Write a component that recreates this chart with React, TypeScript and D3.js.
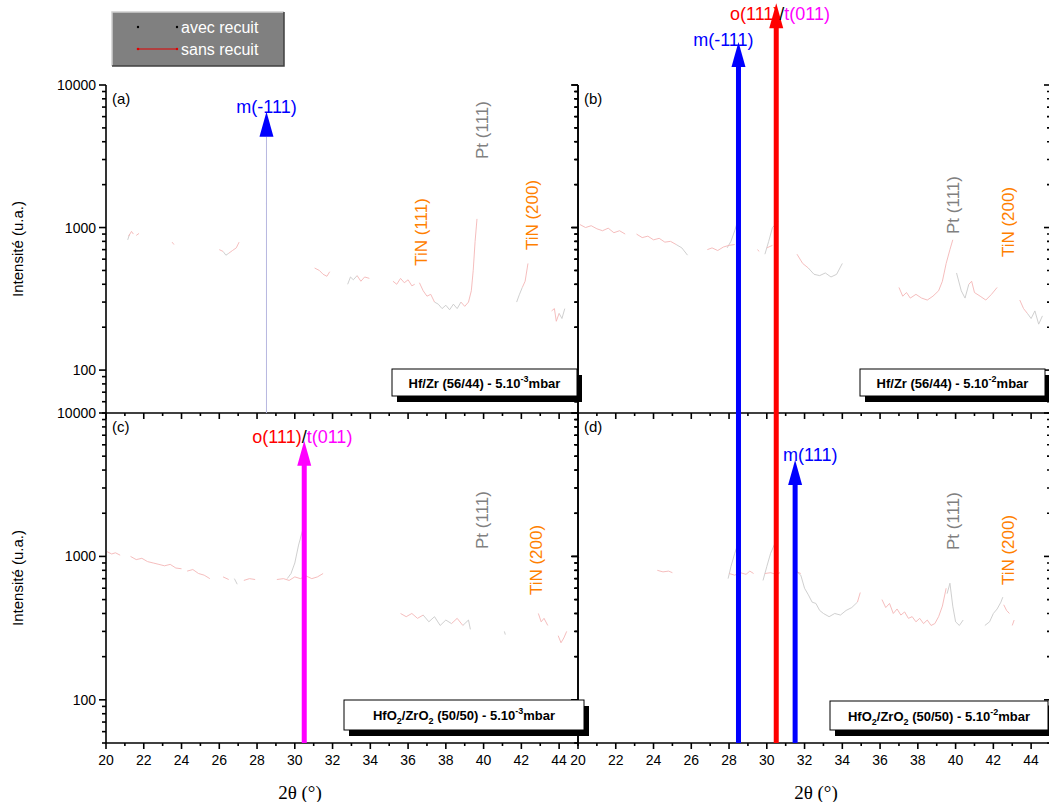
import React from 'react';
import * as d3 from 'd3';

type Frag = [number, number][];

// ---------- data ----------
const X_TICKS = [20, 22, 24, 26, 28, 30, 32, 34, 36, 38, 40, 42, 44];
const X_MINOR = [21, 23, 25, 27, 29, 31, 33, 35, 37, 39, 41, 43, 45];
const Y_MAJOR = [100, 1000, 10000];
const Y_MINOR = [50, 60, 70, 80, 90, 200, 300, 400, 500, 600, 700, 800, 900, 2000, 3000, 4000, 5000, 6000, 7000, 8000, 9000];

// panel (a) Hf/Zr 5e-3
const A_SANS: Frag[] = [
  [[21.2, 870], [21.35, 940], [21.45, 900]],
  [[21.6, 880], [21.75, 910]],
  [[23.5, 790], [23.6, 760]],
  [[26.0, 700], [26.2, 680]],
  [[26.5, 660], [26.7, 690], [26.9, 720], [27.05, 790]],
  [[31.05, 520], [31.3, 500], [31.5, 470], [31.7, 455], [31.85, 490]],
  [[33.3, 460], [33.5, 420], [33.7, 450], [33.95, 440]],
  [[35.2, 420], [35.4, 400], [35.6, 440], [35.8, 410], [36.0, 430], [36.2, 390], [36.35, 400]],
  [[36.6, 410], [36.8, 360], [37.0, 330], [37.2, 340], [37.4, 300]],
  [[38.8, 300], [39.0, 280], [39.2, 300], [39.35, 360], [39.45, 500], [39.55, 800], [39.65, 1150]],
  [[42.05, 380], [42.2, 420], [42.35, 560]],
  [[43.6, 260], [43.75, 270], [43.85, 220], [44.0, 250]],
];
const A_AVEC: Frag[] = [
  [[21.15, 820], [21.25, 900]],
  [[26.2, 680], [26.35, 640], [26.5, 660]],
  [[32.8, 400], [32.95, 450], [33.1, 430], [33.3, 460]],
  [[37.4, 300], [37.6, 290], [37.8, 270], [38.0, 285], [38.2, 265], [38.4, 290], [38.6, 270], [38.8, 300]],
  [[41.75, 300], [41.9, 340], [42.05, 380]],
  [[44.0, 250], [44.15, 230], [44.3, 270]],
  [[28.5, 2500], [28.5, 2400]],
  [[28.5, 1500], [28.5, 1450]],
];

// panel (b) Hf/Zr 5e-2
const B_SANS: Frag[] = [
  [[20.1, 1050], [20.4, 1000], [20.7, 1030], [21.0, 980], [21.3, 950], [21.6, 990], [21.9, 920], [22.2, 950], [22.5, 900]],
  [[23.1, 900], [23.4, 850], [23.7, 870], [24.0, 820], [24.3, 840], [24.6, 790], [24.9, 800], [25.2, 760]],
  [[26.85, 700], [27.1, 720], [27.4, 690], [27.7, 730], [28.0, 750], [28.3, 760]],
  [[29.5, 700], [29.6, 680]],
  [[30.0, 720], [30.3, 750]],
  [[31.6, 650], [31.9, 560], [32.2, 520]],
  [[37.0, 380], [37.2, 330], [37.4, 350], [37.6, 320], [37.9, 340], [38.2, 320], [38.5, 310], [38.8, 330], [39.1, 360], [39.3, 420], [39.5, 560], [39.7, 700], [39.85, 820]],
  [[40.7, 400], [40.85, 420], [41.0, 350], [41.3, 330], [41.6, 310], [41.9, 340], [42.2, 380]],
  [[43.4, 310], [43.6, 270], [43.8, 250]],
];
const B_AVEC: Frag[] = [
  [[25.2, 760], [25.5, 720], [25.8, 640]],
  [[27.9, 720], [28.1, 800], [28.3, 950], [28.45, 1100]],
  [[29.9, 650], [30.1, 800], [30.3, 1000], [30.6, 1100]],
  [[32.2, 520], [32.5, 470], [32.8, 460], [33.1, 480], [33.4, 450], [33.7, 470], [34.0, 560]],
  [[40.05, 480], [40.3, 360], [40.5, 320], [40.7, 400]],
  [[43.8, 250], [44.0, 230], [44.2, 260], [44.4, 210], [44.6, 240]],
];

// panel (c) HfO2/ZrO2 5e-3
const C_SANS: Frag[] = [
  [[20.05, 1080], [20.3, 1040], [20.5, 1060], [20.75, 1020]],
  [[21.3, 1000], [21.6, 950], [21.9, 970], [22.2, 920], [22.5, 900], [22.8, 880], [23.1, 860], [23.4, 880], [23.7, 830], [24.0, 820]],
  [[24.3, 790], [24.6, 810], [24.9, 760], [25.2, 740], [25.5, 700]],
  [[26.2, 720], [26.5, 690]],
  [[27.3, 680], [27.6, 700], [27.9, 690]],
  [[29.05, 690], [29.4, 700], [29.7, 680], [30.0, 720], [30.3, 700], [30.6, 730], [30.9, 700], [31.2, 720], [31.5, 760]],
  [[35.6, 400], [35.9, 380], [36.2, 400], [36.5, 370], [36.8, 390]],
  [[38.3, 340], [38.6, 370], [38.9, 330]],
  [[42.9, 400], [43.05, 350], [43.2, 370], [43.4, 330]],
  [[43.95, 280], [44.1, 250], [44.25, 270], [44.4, 300]],
];
const C_AVEC: Frag[] = [
  [[26.8, 700], [26.95, 640]],
  [[29.6, 700], [29.8, 760], [30.0, 900], [30.2, 1200], [30.4, 1500]],
  [[36.8, 390], [37.1, 350], [37.4, 380], [37.7, 330], [38.0, 360], [38.3, 340]],
  [[38.9, 330], [39.2, 360], [39.3, 310]],
  [[41.1, 300], [41.15, 285]],
];

// panel (d) HfO2/ZrO2 5e-2
const D_SANS: Frag[] = [
  [[20.02, 1000], [20.06, 980]],
  [[24.2, 800], [24.5, 780], [24.8, 790], [25.0, 770]],
  [[28.0, 760], [28.3, 740], [28.6, 770], [28.9, 750], [29.1, 790], [29.3, 760]],
  [[29.9, 760], [30.2, 770], [30.5, 750], [30.7, 770]],
  [[31.4, 760], [31.6, 780], [31.8, 760]],
  [[34.8, 480], [34.95, 560]],
  [[36.1, 500], [36.3, 440], [36.5, 470], [36.7, 400], [36.9, 430], [37.1, 390], [37.3, 410], [37.5, 370], [37.7, 380], [37.9, 350], [38.1, 370], [38.3, 340], [38.5, 360], [38.7, 330], [38.9, 340], [39.1, 380], [39.3, 450], [39.5, 600]],
  [[42.55, 460], [42.7, 420], [42.85, 400]],
  [[43.0, 330], [43.1, 360]],
];
const D_AVEC: Frag[] = [
  [[27.95, 700], [28.1, 850], [28.3, 1050], [28.45, 1200]],
  [[29.8, 680], [30.0, 850], [30.2, 1050], [30.45, 1250]],
  [[31.5, 900], [31.6, 780], [31.8, 740], [32.0, 600], [32.2, 540], [32.4, 480], [32.6, 470], [32.8, 420], [33.0, 400], [33.3, 380], [33.6, 400], [33.9, 390], [34.2, 420], [34.5, 440], [34.8, 480]],
  [[39.55, 550], [39.7, 650], [39.85, 450], [40.0, 350], [40.2, 330], [40.4, 360]],
  [[41.55, 330], [41.8, 350], [42.0, 400], [42.2, 430], [42.4, 480], [42.5, 520]],
];

// ---------- layout ----------
const W = 1049, H = 802;
const COLS = [{ x0: 106, x1: 578 }, { x0: 578, x1: 1050 }];
const ROWS = [{ y0: 85, y1: 413 }, { y0: 413, y1: 743 }];
const XDOM: [number, number] = [20, 45];
const YDOM: [number, number] = [50, 10000];
const X_TITLE_X = [300, 816];

const FONT = '"Liberation Sans", Arial, sans-serif';
const SERIF = '"Liberation Serif", "Times New Roman", serif';
const GRAY_LINE = '#cacaca';
const PINK_LINE = '#f4b6b6';
const ORANGE = '#ff8000';
const PT_GRAY = '#808080';
const LABEL_DX = 15;

type Panel = {
  key: string; col: number; row: number; avec: Frag[]; sans: Frag[];
  tag: string;
  box: { x: number; y: number; w: number; h: number };
  boxKind: 'hf' | 'hfo'; exp: string;
  labels: { text: string; color: string; x: number; cy: number }[];
};

const PANELS: Panel[] = [
  {
    key: 'a', col: 0, row: 0, avec: A_AVEC, sans: A_SANS, tag: '(a)',
    box: { x: 392, y: 369, w: 185, h: 27 }, boxKind: 'hf', exp: '-3',
    labels: [
      { text: 'Pt (111)', color: PT_GRAY, x: 39.45, cy: 130 },
      { text: 'TiN (111)', color: ORANGE, x: 36.2, cy: 232 },
      { text: 'TiN (200)', color: ORANGE, x: 42.1, cy: 215 },
    ],
  },
  {
    key: 'b', col: 1, row: 0, avec: B_AVEC, sans: B_SANS, tag: '(b)',
    box: { x: 860, y: 369, w: 185, h: 27 }, boxKind: 'hf', exp: '-2',
    labels: [
      { text: 'Pt (111)', color: PT_GRAY, x: 39.4, cy: 205 },
      { text: 'TiN (200)', color: ORANGE, x: 42.3, cy: 222 },
    ],
  },
  {
    key: 'c', col: 0, row: 1, avec: C_AVEC, sans: C_SANS, tag: '(c)',
    box: { x: 344, y: 700, w: 240, h: 30 }, boxKind: 'hfo', exp: '-3',
    labels: [
      { text: 'Pt (111)', color: PT_GRAY, x: 39.45, cy: 520 },
      { text: 'TiN (200)', color: ORANGE, x: 42.3, cy: 560 },
    ],
  },
  {
    key: 'd', col: 1, row: 1, avec: D_AVEC, sans: D_SANS, tag: '(d)',
    box: { x: 830, y: 701, w: 218, h: 29 }, boxKind: 'hfo', exp: '-2',
    labels: [
      { text: 'Pt (111)', color: PT_GRAY, x: 39.4, cy: 521 },
      { text: 'TiN (200)', color: ORANGE, x: 42.3, cy: 550 },
    ],
  },
];

type Arrow = {
  col: number; row: number; baseRow: number; x: number; tip: number; color: string;
  width: number; shaftColor?: string; label: { t: string; c: string }[]; ly: number; lx: number;
};
const ARROWS: Arrow[] = [
  { col: 0, row: 0, baseRow: 0, x: 28.5, tip: 6500, color: '#0000ff', width: 1, shaftColor: '#b8b8e0', label: [{ t: 'm(-111)', c: '#0000ff' }], lx: 28.5, ly: 113 },
  { col: 1, row: 0, baseRow: 1, x: 28.5, tip: 20000, color: '#0000ff', width: 5, label: [{ t: 'm(-111)', c: '#0000ff' }], lx: 27.7, ly: 46 },
  { col: 1, row: 0, baseRow: 1, x: 30.5, tip: 37500, color: '#ff0000', width: 5, label: [{ t: 'o(111)', c: '#ff0000' }, { t: '/', c: '#000000' }, { t: 't(011)', c: '#ff00ff' }], lx: 30.7, ly: 20 },
  { col: 0, row: 1, baseRow: 1, x: 30.5, tip: 6400, color: '#ff00ff', width: 5, label: [{ t: 'o(111)', c: '#ff0000' }, { t: '/', c: '#000000' }, { t: 't(011)', c: '#ff00ff' }], lx: 30.4, ly: 443 },
  { col: 1, row: 1, baseRow: 1, x: 31.5, tip: 4700, color: '#0000ff', width: 5, label: [{ t: 'm(111)', c: '#0000ff' }], lx: 32.3, ly: 461 },
];

function xs(col: number) {
  return d3.scaleLinear().domain(XDOM).range([COLS[col].x0, COLS[col].x1]);
}
function ys(row: number) {
  return d3.scaleLog().domain(YDOM).range([ROWS[row].y1, ROWS[row].y0]);
}

function Sup({ children }: { children: string }) {
  return <tspan fontSize={9} dy={-6}>{children}</tspan>;
}

export default function App() {
  const axisColor = '#000';
  return (
    <svg width={W} height={H} style={{ position: 'absolute', left: 0, top: 0, background: '#fff' }} fontFamily={FONT}>
      <defs>
        <clipPath id="clipL"><rect x={COLS[0].x0} y={85} width={COLS[0].x1 - COLS[0].x0} height={743 - 85} /></clipPath>
        <clipPath id="clipR"><rect x={COLS[1].x0} y={85} width={COLS[1].x1 - COLS[1].x0} height={743 - 85} /></clipPath>
      </defs>

      {/* data */}
      {PANELS.map((p) => {
        const x = xs(p.col), y = ys(p.row);
        const line = d3.line<[number, number]>().x((d) => x(d[0])).y((d) => y(d[1]));
        return (
          <g key={p.key} clipPath={`url(#${p.col === 0 ? 'clipL' : 'clipR'})`}>
            {p.avec.map((f, i) => <path key={'g' + i} d={line(f) || ''} fill="none" stroke={GRAY_LINE} strokeWidth={0.9} />)}
            {p.sans.map((f, i) => <path key={'r' + i} d={line(f) || ''} fill="none" stroke={PINK_LINE} strokeWidth={0.9} />)}
          </g>
        );
      })}

      {/* axes */}
      {PANELS.map((p) => {
        const x = xs(p.col), y = ys(p.row);
        const { x0, x1 } = COLS[p.col];
        const { y0, y1 } = ROWS[p.row];
        return (
          <g key={'ax' + p.key} stroke={axisColor} strokeWidth={1.6}>
            <line x1={x0} x2={x0} y1={y0} y2={y1} />
            <line x1={x1} x2={x1} y1={y0} y2={y1} />
            <line x1={x0} x2={x1} y1={y1} y2={y1} />
            {Y_MAJOR.map((v) => (
              <g key={'ym' + v}>
                <line x1={x0 - 7} x2={x0} y1={y(v)} y2={y(v)} />
                <line x1={x1 - 6} x2={x1} y1={y(v)} y2={y(v)} />
              </g>
            ))}
            {Y_MINOR.map((v) => (
              <g key={'yn' + v}>
                <line x1={x0 - 4} x2={x0} y1={y(v)} y2={y(v)} />
                <line x1={x1 - 3} x2={x1} y1={y(v)} y2={y(v)} />
              </g>
            ))}
            {X_TICKS.map((v) => <line key={'xm' + v} x1={x(v)} x2={x(v)} y1={y1} y2={y1 + 6} />)}
            {X_MINOR.map((v) => <line key={'xn' + v} x1={x(v)} x2={x(v)} y1={y1} y2={y1 + 3} />)}
          </g>
        );
      })}

      {/* y tick labels (left column) */}
      {[0, 1].map((r) => {
        const y = ys(r);
        return Y_MAJOR.map((v) => (
          <text key={'yl' + r + v} x={COLS[0].x0 - 10} y={y(v) + 5} textAnchor="end" fontSize={14}>{v}</text>
        ));
      })}
      {/* x tick labels */}
      {[0, 1].map((c) => {
        const x = xs(c);
        return X_TICKS.map((v) => (
          <text key={'xl' + c + v} x={x(v)} y={765} textAnchor="middle" fontSize={14}>{v}</text>
        ));
      })}

      {/* axis titles */}
      {[249, 578].map((cy, i) => (
        <text key={'yt' + i} transform={`translate(23,${cy}) rotate(-90)`} textAnchor="middle" fontSize={15}>Intensité (u.a.)</text>
      ))}
      {[0, 1].map((c) => (
        <text key={'xt' + c} x={X_TITLE_X[c]} y={799} textAnchor="middle" fontSize={19} fontFamily={SERIF}>2θ (°)</text>
      ))}

      {/* panel tags */}
      {PANELS.map((p) => (
        <text key={'tag' + p.key} x={COLS[p.col].x0 + 6} y={ROWS[p.row].y0 + 19} fontSize={15}>{p.tag}</text>
      ))}

      {/* phase labels */}
      {PANELS.map((p) => {
        const x = xs(p.col);
        return p.labels.map((l, i) => (
          <text key={p.key + 'l' + i} transform={`translate(${x(l.x) + LABEL_DX},${l.cy}) rotate(-90)`} textAnchor="middle" fontSize={17} fill={l.color}>{l.text}</text>
        ));
      })}

      {/* arrows */}
      {ARROWS.map((a, i) => {
        const x = xs(a.col)(a.x);
        const tipY = ys(a.row)(a.tip);
        const baseY = ROWS[a.baseRow].y1;
        const headH = 25, headW = 14;
        return (
          <g key={'ar' + i}>
            {a.width > 1 ? (
              <rect x={x - a.width / 2} y={tipY + headH - 1} width={a.width} height={baseY - tipY - headH + 1} fill={a.color} />
            ) : (
              <line x1={x} x2={x} y1={tipY + headH} y2={baseY} stroke={a.shaftColor} strokeWidth={1} />
            )}
            <polygon points={`${x - headW / 2},${tipY + headH} ${x + headW / 2},${tipY + headH} ${x},${tipY}`} fill={a.color} />
            <text x={xs(a.col)(a.lx)} y={a.ly} textAnchor="middle" fontSize={18}>
              {a.label.map((s, j) => <tspan key={j} fill={s.c}>{s.t}</tspan>)}
            </text>
          </g>
        );
      })}

      {/* info boxes */}
      {PANELS.map((p) => {
        const b = p.box;
        const cx = b.x + b.w / 2, ty = b.y + b.h / 2 + 5;
        return (
          <g key={'box' + p.key}>
            <rect x={b.x + 5} y={b.y + 6} width={b.w} height={b.h} fill="#000" />
            <rect x={b.x} y={b.y} width={b.w} height={b.h} fill="#fff" stroke="#000" strokeWidth={1} />
            <text x={cx} y={ty} textAnchor="middle" fontSize={13} fontWeight="bold">
              {p.boxKind === 'hf' ? (
                <>
                  <tspan>Hf/Zr (56/44) - 5.10</tspan>
                  <Sup>{p.exp}</Sup>
                  <tspan dy={6}>mbar</tspan>
                </>
              ) : (
                <>
                  <tspan>HfO</tspan>
                  <tspan fontSize={9} dy={4}>2</tspan>
                  <tspan dy={-4}>/ZrO</tspan>
                  <tspan fontSize={9} dy={4}>2</tspan>
                  <tspan dy={-4}> (50/50) - 5.10</tspan>
                  <Sup>{p.exp}</Sup>
                  <tspan dy={6}>mbar</tspan>
                </>
              )}
            </text>
          </g>
        );
      })}

      {/* legend */}
      <g>
        <rect x={112} y={12} width={172} height={54} fill="#808080" />
        <polyline points="112,66 112,12 284,12" fill="none" stroke="#d0d0d0" strokeWidth={1.5} />
        <polyline points="112,66 284,66 284,12" fill="none" stroke="#404040" strokeWidth={1.5} />
        <circle cx={138} cy={27} r={1.2} fill="#000" />
        <circle cx={177} cy={27} r={1.2} fill="#000" />
        <text x={181} y={33} fontSize={16} fill="#fff">avec recuit</text>
        <line x1={138} x2={177} y1={49} y2={49} stroke="#e00000" strokeWidth={1} />
        <circle cx={138} cy={49} r={1.3} fill="#e00000" />
        <circle cx={177} cy={49} r={1.2} fill="#e00000" />
        <text x={181} y={55} fontSize={16} fill="#fff">sans recuit</text>
      </g>
    </svg>
  );
}
